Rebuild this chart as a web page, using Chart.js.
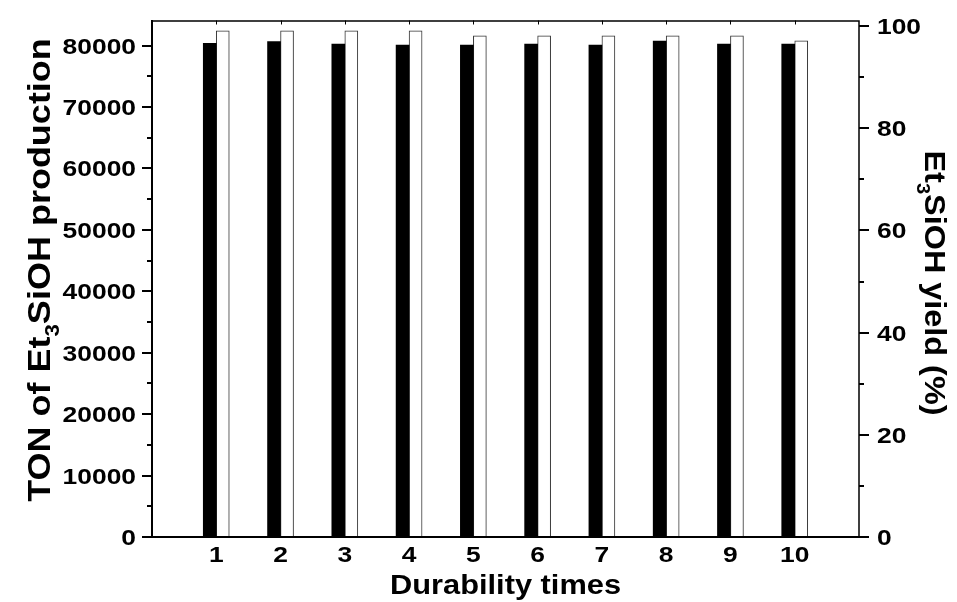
<!DOCTYPE html>
<html>
<head>
<meta charset="utf-8">
<script src="https://cdn.jsdelivr.net/npm/chart.js@4"></script>
<style>
    body { margin: 0; background: #fff; }
    #wrap { width: 957px; height: 602px; position: relative; }
</style>
</head>
<body>
<div id="wrap"><canvas id="durability-chart"></canvas></div>
<script>
// Data
const cycles = ["1", "2", "3", "4", "5", "6", "7", "8", "9", "10"];
const tonValues = [80370, 80630, 80260, 80090, 80090, 80260, 80090, 80740, 80260, 80260];
const yieldValues = [99.1, 99.1, 99.1, 99.1, 98.1, 98.1, 98.1, 98.1, 98.1, 97.1];
const tonTicks = [0, 10000, 20000, 30000, 40000, 50000, 60000, 70000, 80000];
const tonMinor = [5000, 15000, 25000, 35000, 45000, 55000, 65000, 75000];
const yieldTicks = [0, 20, 40, 60, 80, 100];
const yieldMinor = [10, 30, 50, 70, 90];

const FONT = '"Liberation Sans", Arial, sans-serif';

// empty slot on each side so the axis runs from 0 to 11
const labels = [""].concat(cycles, [""]);
const pad = (arr) => [null].concat(arr, [null]);

// Stretched text helper (parts can be subscripted)
function drawText(ctx, parts, x, y, size, stretch, angle, align) {
    ctx.save();
    ctx.translate(x, y);
    ctx.rotate(angle);
    ctx.scale(stretch, 1);
    ctx.fillStyle = "#000";
    ctx.textBaseline = "alphabetic";
    ctx.textAlign = "left";

    let total = 0;
    parts.forEach(p => {
        ctx.font = `bold ${p.sub ? size * 0.62 : size}px ${FONT}`;
        p.w = ctx.measureText(p.t).width;
        total += p.w;
    });

    let cx = align === "center" ? -total / 2 : (align === "right" ? -total : 0);
    parts.forEach(p => {
        ctx.font = `bold ${p.sub ? size * 0.62 : size}px ${FONT}`;
        ctx.fillText(p.t, cx, p.sub ? size * 0.28 : 0);
        cx += p.w;
    });
    ctx.restore();
}

// Axes, ticks and titles
const axesPlugin = {
    id: "axesPlugin",
    afterDatasetsDraw(chart) {
        const ctx = chart.ctx;
        const area = chart.chartArea;
        const x = chart.scales.x;
        const yL = chart.scales.y;
        const yR = chart.scales.y1;

        ctx.save();
        ctx.strokeStyle = "#000";
        ctx.lineCap = "square";

        // frame
        ctx.lineWidth = 1.5;
        ctx.beginPath();
        ctx.moveTo(area.left, area.top);
        ctx.lineTo(area.right, area.top);
        ctx.lineTo(area.right, area.bottom);
        ctx.stroke();

        ctx.lineWidth = 2;
        ctx.beginPath();
        ctx.moveTo(area.left, area.top);
        ctx.lineTo(area.left, area.bottom);
        ctx.lineTo(area.right, area.bottom);
        ctx.stroke();

        // top ticks pointing in
        ctx.lineWidth = 1;
        ctx.beginPath();
        cycles.forEach((c, i) => {
            const px = Math.round(x.getPixelForValue(i + 1)) + 0.5;
            ctx.moveTo(px, area.top);
            ctx.lineTo(px, area.top + 3);
        });
        ctx.stroke();

        // left ticks
        ctx.lineWidth = 2;
        ctx.lineCap = "butt";
        ctx.beginPath();
        tonTicks.forEach(v => {
            const py = Math.round(yL.getPixelForValue(v));
            ctx.moveTo(area.left, py);
            ctx.lineTo(area.left - 10, py);
        });
        tonMinor.forEach(v => {
            const py = Math.round(yL.getPixelForValue(v));
            ctx.moveTo(area.left, py);
            ctx.lineTo(area.left - 5, py);
        });
        ctx.stroke();

        // right ticks
        ctx.beginPath();
        yieldTicks.forEach(v => {
            const py = Math.round(yR.getPixelForValue(v));
            ctx.moveTo(area.right, py);
            ctx.lineTo(area.right + 10, py);
        });
        yieldMinor.forEach(v => {
            const py = Math.round(yR.getPixelForValue(v));
            ctx.moveTo(area.right, py);
            ctx.lineTo(area.right + 5, py);
        });
        ctx.stroke();
        ctx.restore();

        // tick labels
        tonTicks.forEach(v => {
            drawText(ctx, [{ t: String(v) }], area.left - 16, yL.getPixelForValue(v) + 8, 22, 1.2, 0, "right");
        });
        yieldTicks.forEach(v => {
            drawText(ctx, [{ t: String(v) }], area.right + 18, yR.getPixelForValue(v) + 8, 22, 1.2, 0, "left");
        });
        cycles.forEach((c, i) => {
            drawText(ctx, [{ t: c }], x.getPixelForValue(i + 1), area.bottom + 25, 22, 1.2, 0, "center");
        });

        // axis titles
        drawText(ctx, [{ t: "Durability times" }], (area.left + area.right) / 2, 594, 28, 1.1, 0, "center");
        drawText(ctx, [{ t: "TON of Et" }, { t: "3", sub: true }, { t: "SiOH production" }],
            50, 270, 32, 1.125, -Math.PI / 2, "center");
        drawText(ctx, [{ t: "Et" }, { t: "3", sub: true }, { t: "SiOH yield (%)" }],
            925, 283, 30, 1.08, Math.PI / 2, "center");
    }
};

const ctx = document.getElementById("durability-chart").getContext("2d");

new Chart(ctx, {
    type: "bar",
    data: {
        labels: labels,
        datasets: [{
            label: "TON",
            data: pad(tonValues),
            yAxisID: "y",
            backgroundColor: "#000",
            borderWidth: 0,
            barThickness: 13
        }, {
            label: "Yield",
            data: pad(yieldValues),
            yAxisID: "y1",
            backgroundColor: "#fff",
            borderColor: "#333",
            borderWidth: 1,
            borderSkipped: "bottom",
            barThickness: 13
        }]
    },
    options: {
        responsive: true,
        maintainAspectRatio: false,
        animation: false,
        layout: {
            padding: { left: 152, right: 98, top: 21, bottom: 65 }
        },
        scales: {
            x: { display: false, offset: false },
            y: { display: false, position: "left", min: 0, max: 84000 },
            y1: { display: false, position: "right", min: 0, max: 101 }
        },
        plugins: {
            legend: { display: false },
            tooltip: { enabled: false }
        }
    },
    plugins: [axesPlugin]
});
</script>
</body>
</html>
